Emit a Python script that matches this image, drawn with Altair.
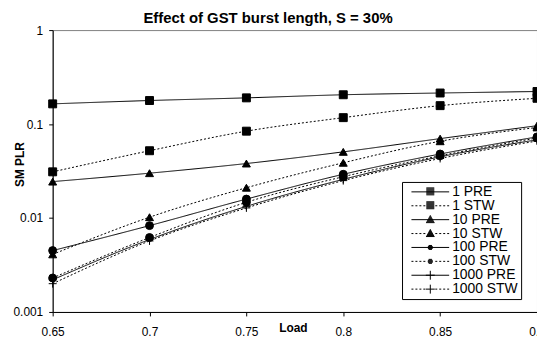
import altair as alt
import pandas as pd
import math

# ---- data ----
load = [0.65, 0.70, 0.75, 0.80, 0.85, 0.90]
series = ["1 PRE", "1 STW", "10 PRE", "10 STW", "100 PRE", "100 STW", "1000 PRE", "1000 STW"]
pre1 = [0.164, 0.178, 0.190, 0.205, 0.214, 0.222]
stw1 = [0.031, 0.052, 0.084, 0.117, 0.157, 0.188]
pre10 = [0.0244, 0.030, 0.038, 0.0506, 0.070, 0.096]
stw10 = [0.0041, 0.0102, 0.021, 0.0387, 0.0656, 0.092]
pre100 = [0.0045, 0.0083, 0.0159, 0.0292, 0.048, 0.073]
stw100 = [0.0023, 0.0062, 0.0147, 0.0275, 0.046, 0.071]
pre1000 = [0.0022, 0.0059, 0.0133, 0.0258, 0.0448, 0.068]
stw1000 = [0.0020, 0.0057, 0.0128, 0.0250, 0.043, 0.066]
values = [pre1, stw1, pre10, stw10, pre100, stw100, pre1000, stw1000]
x_ticks = [0.65, 0.7, 0.75, 0.8, 0.85, 0.9]
y_ticks = [0.001, 0.01, 0.1, 1]

rows = []
for name, vals in zip(series, values):
    for lx, v in zip(load, vals):
        rows.append({"Load": lx, "PLR": v, "series": name})
df = pd.DataFrame(rows)

FONT = "Liberation Sans"

# ---- styles ----
solid = [1, 0]
dotted = [2, 2]
dash_range = [solid, dotted] * 4

PLUS = "M-1,0H1M0,-1V1"
plot_shapes = ["square", "square", "triangle-up", "triangle-up", "circle", "circle", PLUS, PLUS]
plot_sizes = [64, 64, 64, 64, 20, 20, 64, 64]

# legend symbols (stroke-only): line + marker drawn from 1px strokes; unit = 6px (symbolSize 144)
U = 6.0
def u(p):
    return f"{p / U:.3f}"

def hline(x0, x1, y):
    return f"M{u(x0)},{u(y)}H{u(x1)}"

def line_path(is_dotted):
    if not is_dotted:
        return hline(-19, 19, 0)
    segs = []
    for a in [-19, -15, -11, -7, 5, 9, 13, 17]:
        segs.append(hline(a, a + 2, 0))
    return "".join(segs)

def square_marker():
    return "".join(hline(-4, 4, dy) for dy in range(-4, 4))

def tri_marker():
    out = []
    for i, dy in enumerate(range(-4, 4)):
        w = 0.5 + i * 0.55
        out.append(hline(-w, w, dy))
    return "".join(out)

def circ_marker():
    out = []
    r = 2.6
    for dy in [-2, -1, 0, 1, 2]:
        w = math.sqrt(max(r * r - dy * dy, 0.5))
        out.append(hline(-w, w, dy))
    return "".join(out)

def plus_marker():
    return hline(-4.5, 4.5, 0) + f"M0,{u(-4.5)}V{u(4.5)}"

markers = [square_marker(), square_marker(), tri_marker(), tri_marker(),
           circ_marker(), circ_marker(), plus_marker(), plus_marker()]
legend_paths = [line_path(i % 2 == 1) + m for i, m in enumerate(markers)]

xenc = alt.X("Load:Q",
             scale=alt.Scale(domain=[0.65, 0.9], nice=False, zero=False),
             axis=alt.Axis(values=x_ticks, format=".2~f", title="Load", grid=False,
                           labelFlush=False, tickSize=4, labelPadding=11,
                           titleX=242, titleY=20, titleBaseline="alphabetic",
                           titleAlign="center"))
yenc = alt.Y("PLR:Q",
             scale=alt.Scale(type="log", domain=[0.001, 1], nice=False),
             axis=alt.Axis(values=y_ticks, format="~g", title="SM PLR", grid=False,
                           labelFlush=False, tickSize=4, labelPadding=6,
                           titleX=-33, titleY=135, titleAngle=-90,
                           titleAlign="center", titleBaseline="middle"))

lines = alt.Chart(df).mark_line(color="black", strokeWidth=1, interpolate="monotone").encode(
    x=xenc, y=yenc,
    detail="series:N",
    strokeDash=alt.StrokeDash("series:N", scale=alt.Scale(domain=series, range=dash_range), legend=None),
)

points = alt.Chart(df).mark_point(filled=True, color="black", stroke="black", strokeWidth=1, opacity=1).encode(
    x=xenc, y=yenc,
    shape=alt.Shape("series:N", scale=alt.Scale(domain=series, range=plot_shapes), legend=None),
    size=alt.Size("series:N", scale=alt.Scale(domain=series, range=plot_sizes), legend=None),
)

legend_layer = alt.Chart(df).mark_point(filled=False, color="black", strokeWidth=1, opacity=0).encode(
    x=xenc, y=yenc,
    shape=alt.Shape("series:N", scale=alt.Scale(domain=series, range=legend_paths),
                    legend=alt.Legend(title=None, orient="none", legendX=352, legendY=153,
                                      padding=3, rowPadding=0, symbolSize=144,
                                      symbolOffset=18.5, labelOffset=15,
                                      labelFontSize=14, labelFont=FONT, labelColor="black",
                                      labelExpr="datum.label + '\u00a0\u00a0\u00a0\u00a0\u00a0'",
                                      strokeColor="black", fillColor="white",
                                      symbolOpacity=1, symbolStrokeWidth=1,
                                      labelLimit=0)),
)

chart = alt.layer(lines, points, legend_layer).resolve_scale(
    shape="independent", size="independent"
).properties(
    width=488, height=284,
    autosize=alt.AutoSizeParams(type="none"),
    padding={"left": 45, "top": 21, "right": 0, "bottom": 29},
    title=alt.TitleParams("Effect of GST burst length, S = 30%", fontSize=15, fontWeight="bold",
                          font=FONT, color="black", anchor="middle", frame="group",
                          dx=-27, dy=5, offset=3),
).configure_view(
    stroke="#808080", strokeWidth=1
).configure_axis(
    labelFont=FONT, labelFontSize=12, labelColor="black",
    titleFont=FONT, titleFontSize=12, titleFontWeight="bold", titleColor="black",
    domainColor="black", tickColor="black", domainWidth=1, tickWidth=1,
)

chart.save("out.html", embed_options={"renderer": "svg", "actions": False})
